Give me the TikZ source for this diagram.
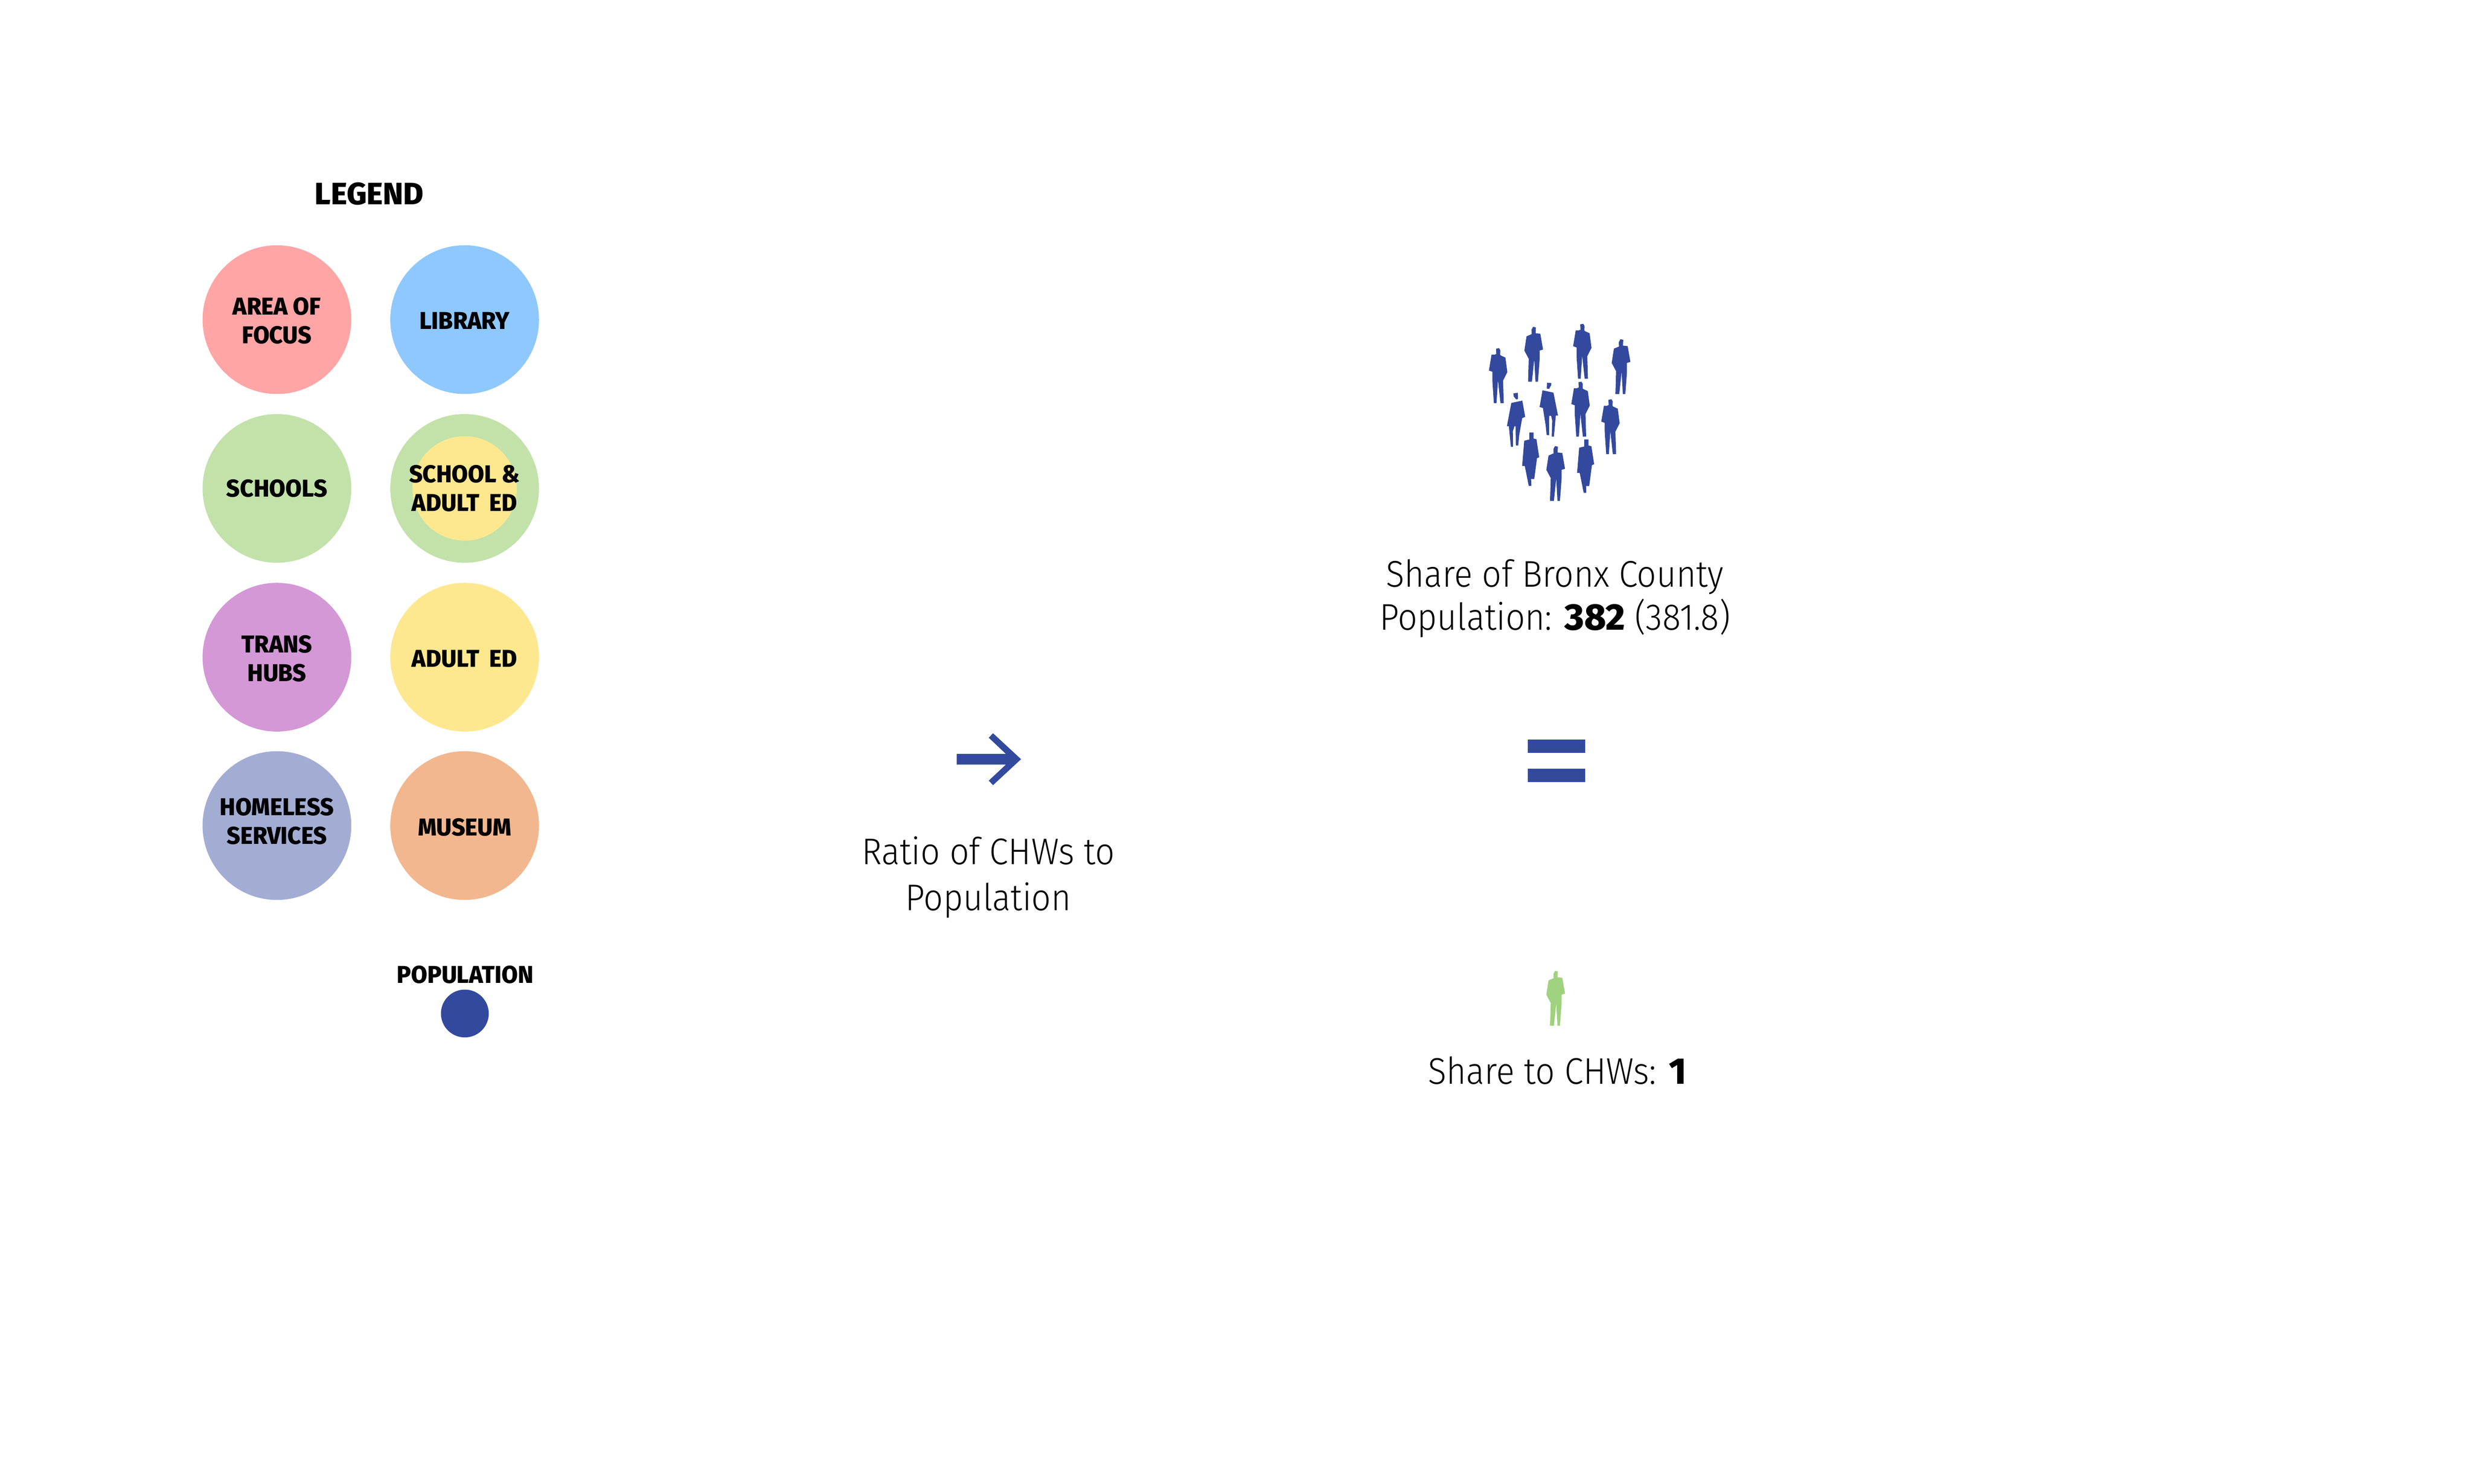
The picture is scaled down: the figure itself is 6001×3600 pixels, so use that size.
\documentclass[tikz,border=0pt]{standalone}
\usepackage{fontspec}
\setmainfont{Fira Sans Light}
\newfontfamily\lightf[FakeStretch=0.92]{Fira Sans Light}
\newfontfamily\heavyf{Fira Sans ExtraBold}
\newfontfamily\labelf[FakeStretch=0.965]{Fira Sans ExtraBold}
\definecolor{navy}{HTML}{33499E}
\definecolor{leaf}{HTML}{9FD27E}
\definecolor{cpink}{HTML}{FFA5A6}
\definecolor{cblue}{HTML}{8EC8FF}
\definecolor{cgreen}{HTML}{C2E2AA}
\definecolor{cyellow}{HTML}{FEE88F}
\definecolor{cpurple}{HTML}{D498D6}
\definecolor{cslate}{HTML}{A3ADD4}
\definecolor{corange}{HTML}{F2B78E}
\tikzset{
  x=0.12pt,y=-0.12pt,
  dot/.style={circle,inner sep=0pt,minimum size=43.3pt},
  lab/.style={inner sep=0pt,align=center,font=\labelf\fontsize{7.1}{8.4}\selectfont},
  big/.style={inner sep=0pt,align=center,anchor=center,font=\lightf\fontsize{10.8}{12.6}\selectfont},
  man/.pic={\fill[pic actions] (211,258)--(233,254)--(242,270)--(241,300)--(243,306)--(279,323)--(293,428)--(264,486)--(262,490)--(267,654)--(243,654)--(225,488)--(214,654)--(195,654)--(184,490)--(184,426)--(159,417)--(178,302)--(200,302)--(213,296)--cycle;},
  manb/.pic={\fill[pic actions] (480,99)--(501,103)--(499,145)--(507,147)--(533,149)--(553,264)--(528,272)--(528,340)--(516,498)--(498,498)--(489,336)--(472,498)--(444,498)--(449,332)--(417,272)--(433,168)--(470,152)--(469,120)--cycle;},
  womana/.pic={\fill[pic actions] (338,583)--(369,579)--(371,624)--(357,627)--(339,605)--cycle (322,653)--(402,636)--(423,754)--(401,764)--(380,885)--(372,963)--(355,963)--(353,822)--(345,822)--(333,860)--(335,973)--(319,973)--(304,822)--(290,822)--cycle;},
  womanb/.pic={\fill[pic actions] (582,505)--(614,509)--(612,524)--(597,551)--(580,548)--cycle (549,561)--(629,578)--(662,745)--(646,745)--(632,898)--(616,898)--(620,783)--(612,747)--(598,747)--(597,888)--(579,886)--(572,815)--(552,690)--(528,682)--cycle;},
  womanc/.pic={\fill[pic actions] (453,868)--(484,868)--(484,912)--(505,917)--(525,1048)--(509,1055)--(489,1207)--(466,1207)--(468,1257)--(449,1257)--(420,1111)--(401,1111)--(416,928)--(453,919)--cycle;},
}
\begin{document}
\begin{tikzpicture}
\useasboundingbox (0,0) rectangle (6001,3600);
\fill[white] (0,0) rectangle (6001,3600);
\node[inner sep=0pt,font=\heavyf\fontsize{9}{10}\selectfont] (legend) at (896,470) {LEGEND};
\node[dot,fill=cpink] (focus) at (672,775.5) {};
\node[dot,fill=cblue] (library) at (1127.5,775.5) {};
\node[dot,fill=cgreen] (schools) at (672,1185) {};
\node[dot,fill=cgreen] (both) at (1127.5,1185) {};
\node[circle,inner sep=0pt,minimum size=30.4pt,fill=cyellow] (bothin) at (1127.5,1185) {};
\node[dot,fill=cpurple] (trans) at (672,1594.5) {};
\node[dot,fill=cyellow] (adult) at (1127.5,1594.5) {};
\node[dot,fill=cslate] (homeless) at (672,2003) {};
\node[dot,fill=corange] (museum) at (1127.5,2003) {};
\node[lab] (focustxt) at (672,778) {AREA OF\\FOCUS};
\node[lab] (librarytxt) at (1127.5,778) {LIBRARY};
\node[lab] (schoolstxt) at (672,1185) {SCHOOLS};
\node[lab] (bothtxt) at (1127.5,1185) {SCHOOL \&\\ADULT\hspace{0.42em}ED};
\node[lab] (transtxt) at (672,1598) {TRANS\\HUBS};
\node[lab] (adulttxt) at (1127.5,1598) {ADULT\hspace{0.42em}ED};
\node[lab] (homelesstxt) at (672,1993) {HOMELESS\\SERVICES};
\node[lab] (museumtxt) at (1127.5,2007) {MUSEUM};
\node[lab] (poptxt) at (1129,2365) {POPULATION};
\node[circle,inner sep=0pt,minimum size=13.92pt,fill=navy] (pop) at (1128,2459) {};
\begin{scope}[shift={(3560,760)},x=0.04pt,y=-0.04pt]
\pic[navy] {man};
\pic[navy,shift={(613,-177)}] {man};
\pic[navy,shift={(600,244)}] {man};
\pic[navy,shift={(818,372)}] {man};
\pic[navy] {manb};
\pic[navy,shift={(636,90)}] {manb};
\pic[navy,shift={(160,868)}] {manb};
\pic[navy] {womana};
\pic[navy] {womanb};
\pic[navy] {womanc};
\pic[navy,shift={(400,51)}] {womanc};
\end{scope}
\begin{scope}[shift={(3700,2340)},x=0.04pt,y=-0.04pt]
\pic[leaf,shift={(-260,-52)}] {manb};
\end{scope}
\begin{scope}[shift={(2280,1740)},x=0.04pt,y=-0.04pt]
\fill[navy] (125,268)--(483,268)--(358,150)--(389,117)--(593,306)--(389,495)--(358,462)--(483,345)--(125,345)--cycle;
\end{scope}
\fill[navy] (3707,1794) rectangle (3847,1827);
\fill[navy] (3707,1865) rectangle (3847,1897);
\node[big] (share) at (3773,1452) {Share of Bronx County\\Population: {\heavyf 382} (381.8)};
\node[big,font=\lightf\fontsize{10.8}{13.4}\selectfont] (ratio) at (2398,2129) {Ratio of CHWs to\\Population};
\node[big] (chw) at (3779,2597) {Share to CHWs: {\heavyf 1}};
\end{tikzpicture}
\end{document}
